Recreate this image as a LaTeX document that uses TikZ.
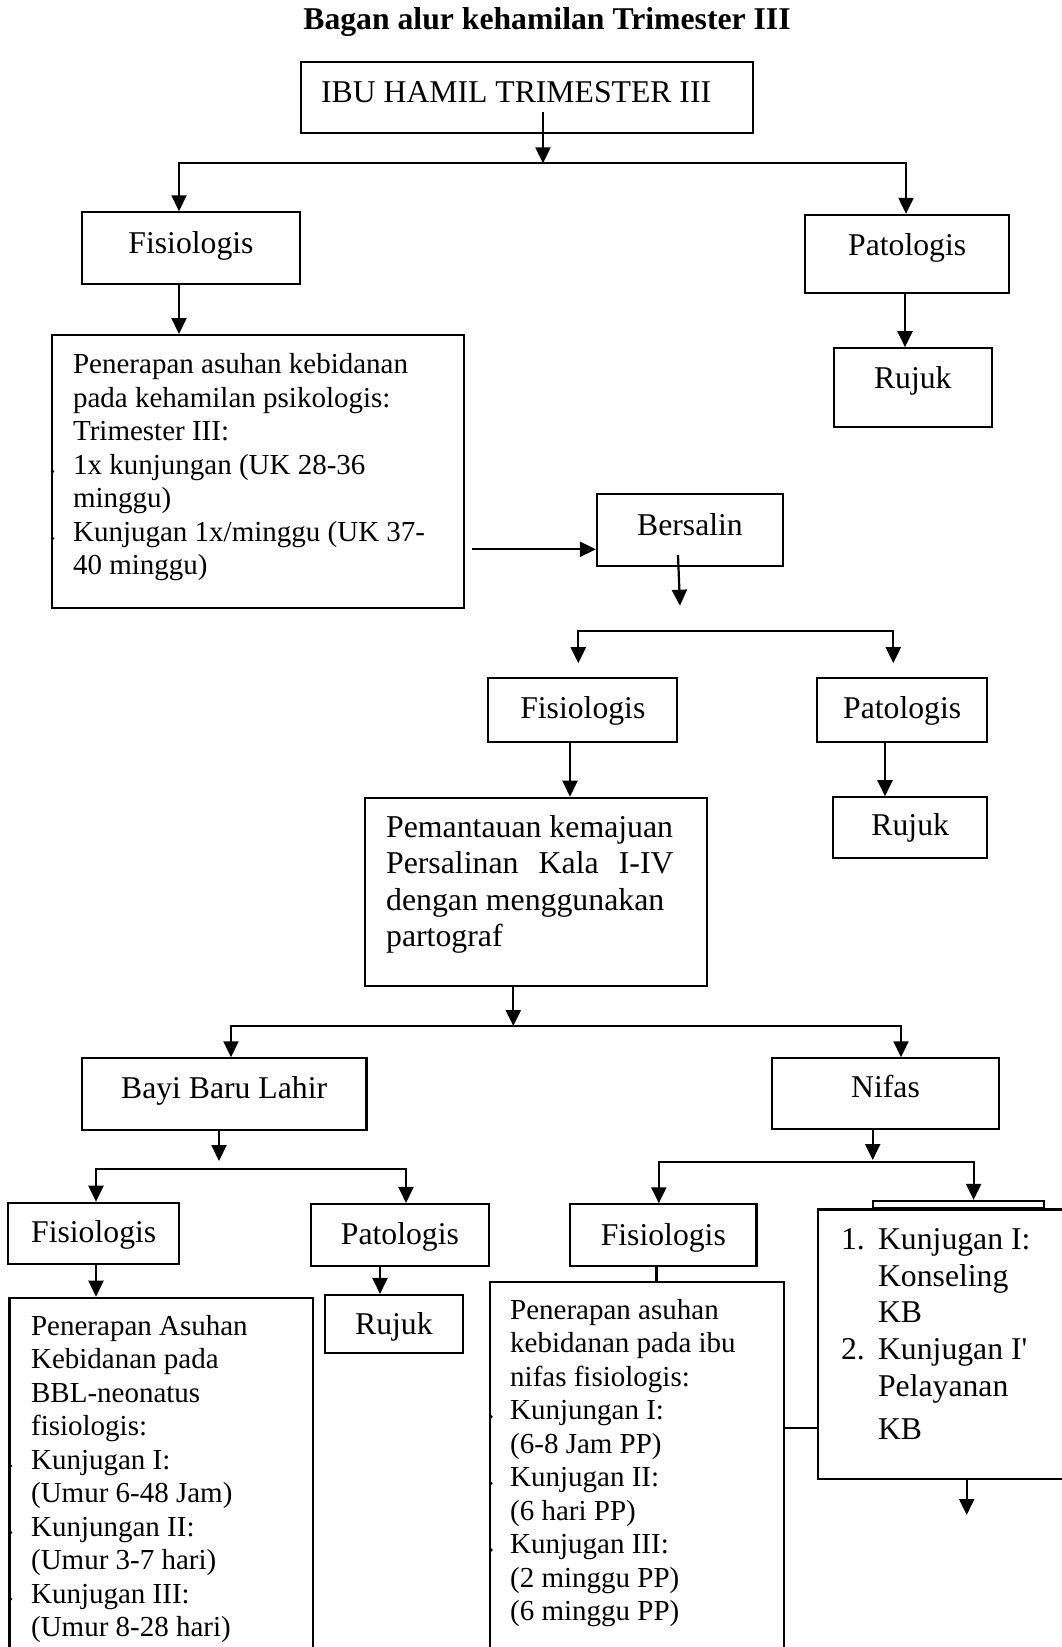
\documentclass[tikz,border=0pt]{standalone}
\usepackage{fontspec}
\setmainfont{Liberation Serif}
\usetikzlibrary{arrows.meta}
\newcommand{\besar}{\fontsize{31.7}{36.7}\selectfont}
\newcommand{\kecil}{\fontsize{29}{33.5}\selectfont}

\begin{document}
\begin{tikzpicture}[x=1pt, y=-1pt,
		kotak/.style={draw, line width=2.2pt, inner sep=0pt, font=\besar},
		isi/.style={draw, line width=2.2pt, anchor=north west, inner ysep=0pt, align=flush left, font=\kecil},
		panah/.style={line width=2.2pt, -{Triangle[length=16pt,width=15pt]}},
		cabang/.style={line width=2.2pt, {Triangle[length=16pt,width=15pt]}-{Triangle[length=16pt,width=15pt]}},
		garis/.style={line width=2.2pt}]
		%%%%% START %%%%%
		\useasboundingbox (0,0) rectangle (1062,1647);
		\clip (0,0) rectangle (1062,1647);
		
		\node[font=\besar\bfseries, anchor=base] (judul) at (547,29.3) {Bagan alur kehamilan Trimester III};
		
		\node[kotak, anchor=west, inner xsep=20.5pt, text width=411.5pt, align=flush left, minimum height=71pt, text height=25pt, text depth=15pt] (ibu) at (299.5,97.8) {IBU HAMIL TRIMESTER III};
		\node[kotak, minimum width=218pt, minimum height=71.7pt, text height=25pt, text depth=15pt] (fisA) at (191,248.2) {Fisiologis};
		\node[kotak, minimum width=204.3pt, minimum height=77.7pt, text height=21.2pt, text depth=18.8pt] (patA) at (907.2,253.8) {Patologis};
		\node[kotak, minimum width=157.7pt, minimum height=78.4pt, text height=20.8pt, text depth=19.2pt] (rujukA) at (912.8,387.5) {Rujuk};
		\node[isi, inner xsep=21.3pt, text width=369.4pt, text height=38.7pt, text depth=234pt] (penA) at (50.7,334) {Penerapan asuhan kebidanan\\ pada kehamilan psikologis:\\ Trimester III:\\ 1x kunjungan (UK 28-36\\ minggu)\\ Kunjugan 1x/minggu (UK 37-\\ 40 minggu)};
		
		\node[kotak, minimum width=186pt, minimum height=71.7pt, text height=25pt, text depth=15pt] (bersalin) at (690,530.2) {Bersalin};
		\node[kotak, minimum width=189pt, minimum height=64pt, text height=28pt, text depth=12pt] (fisB) at (582.8,710.3) {Fisiologis};
		\node[kotak, minimum width=169.7pt, minimum height=64pt, text height=28pt, text depth=12pt] (patB) at (902.2,710.3) {Patologis};
		\node[kotak, minimum width=153.7pt, minimum height=61pt, text height=28pt, text depth=12pt] (rujukB) at (910.2,827.8) {Rujuk};
		\node[isi, font=\fontsize{31.8}{36.1}\selectfont, inner xsep=21pt, text width=299.7pt, text height=40pt, text depth=148.3pt] (pantau) at (364,796.7) {Pemantauan kemajuan\\ \makebox[287.5pt][l]{Persalinan\hfill Kala\hfill I-IV}\\ dengan menggunakan\\ partograf};
		
		\node[kotak, minimum width=284.8pt, minimum height=71.7pt, text height=24pt, text depth=16pt] (bayi) at (224.1,1094.2) {Bayi Baru Lahir};
		\node[kotak, minimum width=226.3pt, minimum height=70.7pt, text height=24pt, text depth=16pt] (nifas) at (885.5,1093.7) {Nifas};
		
		\node[kotak, minimum width=170.7pt, minimum height=61.3pt, text height=29pt, text depth=11pt] (fisC) at (93.7,1233.4) {Fisiologis};
		\node[kotak, minimum width=178.3pt, minimum height=61.7pt, text height=30pt, text depth=10pt] (patC) at (399.9,1234.9) {Patologis};
		\node[kotak, minimum width=137.7pt, minimum height=57.7pt, text height=31pt, text depth=9pt] (rujukC) at (393.9,1323.9) {Rujuk};
		\node[isi, inner xsep=21.7pt, text width=260pt, text height=37.6pt, text depth=420pt] (penC) at (8.3,1296.7) {Penerapan Asuhan\\ Kebidanan pada\\ BBL-neonatus\\ fisiologis:\\ Kunjugan I:\\ (Umur 6-48 Jam)\\ Kunjungan II:\\ (Umur 3-7 hari)\\ Kunjugan III:\\ (Umur 8-28 hari)};
		
		\node[kotak, minimum width=186.2pt, minimum height=61.7pt, text height=30pt, text depth=10pt] (fisD) at (663.3,1235.2) {Fisiologis};
		\node[isi, inner xsep=20.3pt, text width=253.1pt, text height=37.3pt, text depth=420pt] (penD) at (488.8,1281) {Penerapan asuhan\\ kebidanan pada ibu\\ nifas fisiologis:\\ Kunjungan I:\\ (6-8 Jam PP)\\ Kunjugan II:\\ (6 hari PP)\\ Kunjugan III:\\ (2 minggu PP)\\ (6 minggu PP)};
		\node[draw, line width=2.2pt, inner sep=0pt, minimum width=171.6pt, minimum height=7.3pt] (kbAtas) at (958.5,1204.6) {};
		\node[isi, font=\besar, inner xsep=23pt, text width=254pt, text height=40pt, text depth=229.4pt] (kb) at (817,1208.3) {\makebox[37pt][l]{1.}Kunjugan I:\\ \hspace*{37pt}Konseling\\ \hspace*{37pt}KB\\ \makebox[37pt][l]{2.}Kunjugan I\textquotesingle\\ \hspace*{37pt}Pelayanan\\[6.6pt] \hspace*{37pt}KB};
		
		% bullet sisa di tepi kotak
		\foreach \x/\y in {52.5/471.5, 52.5/538.5, 10.5/1466, 10.5/1532.5, 10.5/1599, 491/1416.7, 491/1483.3, 491/1550}
			\fill (\x,\y) circle (1.8pt);
		
		% kehamilan
		\coordinate (a1) at (543,111.7);
		\coordinate (a2) at (543,163.3);
		\coordinate (a2kiri) at (179,163.3);
		\coordinate (a2kanan) at (906,163.3);
		\draw[panah] (a1) -- (a2);
		\draw[cabang] (a2kiri |- fisA.north) -- (a2kiri) -- (a2kanan) -- (a2kanan |- patA.north);
		\draw[panah] (a2kiri |- fisA.south) -- (a2kiri |- penA.north);
		\draw[panah] ([xshift=-2.2pt]patA.south) -- ([xshift=-2.2pt]patA.south |- rujukA.north);
		
		% bersalin
		\coordinate (b1) at (471.7,549.3);
		\draw[panah] (b1) -- (b1 -| bersalin.west);
		\coordinate (b2) at (678,555);
		\coordinate (b3) at (680,605.7);
		\draw[panah] (b2) -- (b3);
		\coordinate (b4kiri) at (578.3,630.7);
		\coordinate (b4kanan) at (893.3,630.7);
		\draw[cabang, shorten <=14pt, shorten >=14pt] (b4kiri |- fisB.north) -- (b4kiri) -- (b4kanan) -- (b4kanan |- patB.north);
		\draw[panah] ([xshift=-12.8pt]fisB.south) -- ([xshift=-12.8pt]fisB.south |- pantau.north);
		\draw[panah] ([xshift=-17.2pt]patB.south) -- ([xshift=-17.2pt]patB.south |- rujukB.north);
		
		% bayi dan nifas
		\coordinate (d1) at (513.3,1026);
		\coordinate (d1kiri) at (231,1026);
		\coordinate (d1kanan) at (901,1026);
		\draw[panah] (d1 |- pantau.south) -- (d1);
		\draw[cabang] (d1kiri |- bayi.north) -- (d1kiri) -- (d1kanan) -- (d1kanan |- nifas.north);
		
		\coordinate (e1) at (219,1161);
		\coordinate (e2kiri) at (96,1169);
		\coordinate (e2kanan) at (406,1169);
		\draw[panah] (e1 |- bayi.south) -- (e1);
		\draw[cabang] (e2kiri |- fisC.north) -- (e2kiri) -- (e2kanan) -- (e2kanan |- patC.north);
		\draw[panah] (e2kiri |- fisC.south) -- (e2kiri |- penC.north);
		\draw[panah] ([xshift=-19.9pt]patC.south) -- ([xshift=-19.9pt]patC.south |- rujukC.north);
		
		\coordinate (f1) at (872.7,1160);
		\coordinate (f2kiri) at (658.8,1162.3);
		\coordinate (f2kanan) at (973.6,1162.3);
		\draw[panah] (f1 |- nifas.south) -- (f1);
		\draw[cabang] (f2kiri |- fisD.north) -- (f2kiri) -- (f2kanan) -- (f2kanan |- kbAtas.north);
		\draw[garis] ([xshift=-6.8pt]fisD.south) -- ([xshift=-6.8pt]fisD.south |- penD.north);
		\coordinate (g1) at (0,1428.3);
		\draw[garis] (penD.east |- g1) -- (kb.west |- g1);
		\coordinate (h1) at (966.7,1515);
		\draw[panah] (h1 |- kb.south) -- (h1);
		
		%%%%% END %%%%%
	\end{tikzpicture}
\end{document}
